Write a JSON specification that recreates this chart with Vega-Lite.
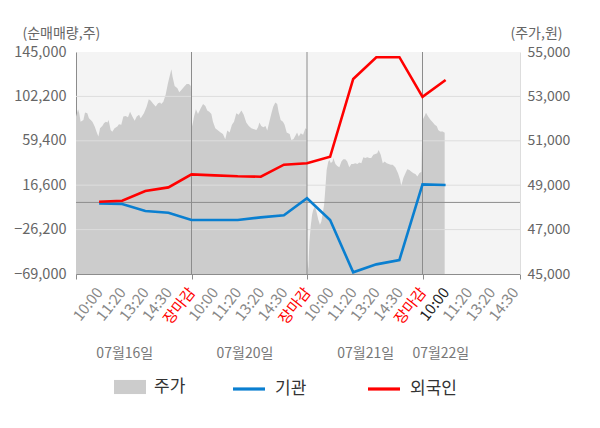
{
  "$schema": "https://vega.github.io/schema/vega-lite/v6.json",
  "autosize": "none",
  "width": 444,
  "height": 222,
  "padding": {"left": 76, "top": 52, "right": 80, "bottom": 154},
  "background": "#ffffff",
  "datasets": {
    "price": [
      {"t": 0, "p": 52090}, {"t": 0.09, "p": 52420}, {"t": 0.14, "p": 52240}, {"t": 0.2, "p": 51860}, {"t": 0.32, "p": 51940},
      {"t": 0.39, "p": 52270}, {"t": 0.49, "p": 52240}, {"t": 0.56, "p": 52020}, {"t": 0.64, "p": 51940}, {"t": 0.71, "p": 51860},
      {"t": 0.81, "p": 51640}, {"t": 0.9, "p": 51370}, {"t": 0.97, "p": 51190}, {"t": 1.04, "p": 51570}, {"t": 1.14, "p": 51670},
      {"t": 1.21, "p": 51790}, {"t": 1.29, "p": 51860}, {"t": 1.36, "p": 51820}, {"t": 1.41, "p": 51940}, {"t": 1.5, "p": 51490},
      {"t": 1.57, "p": 51410}, {"t": 1.67, "p": 51570}, {"t": 1.79, "p": 51640}, {"t": 1.86, "p": 51750}, {"t": 1.96, "p": 51720},
      {"t": 2.05, "p": 52090}, {"t": 2.15, "p": 52120}, {"t": 2.25, "p": 52060}, {"t": 2.34, "p": 52310}, {"t": 2.44, "p": 52090},
      {"t": 2.54, "p": 51900}, {"t": 2.63, "p": 52090}, {"t": 2.73, "p": 52170}, {"t": 2.8, "p": 52020}, {"t": 2.94, "p": 52240},
      {"t": 3.06, "p": 52540}, {"t": 3.15, "p": 52870}, {"t": 3.23, "p": 52810}, {"t": 3.35, "p": 52660}, {"t": 3.45, "p": 52540},
      {"t": 3.55, "p": 52690}, {"t": 3.64, "p": 52720}, {"t": 3.69, "p": 52660}, {"t": 3.78, "p": 52760}, {"t": 3.88, "p": 53070},
      {"t": 3.98, "p": 53590}, {"t": 4.07, "p": 53970}, {"t": 4.13, "p": 54220}, {"t": 4.18, "p": 53890}, {"t": 4.27, "p": 53470},
      {"t": 4.39, "p": 53370}, {"t": 4.47, "p": 53190}, {"t": 4.56, "p": 53290}, {"t": 4.68, "p": 53440}, {"t": 4.79, "p": 53560},
      {"t": 4.89, "p": 53560}, {"t": 4.97, "p": 53470},
      {"t": 5.0, "p": 52390}, {"t": 5.03, "p": 51640}, {"t": 5.11, "p": 52090}, {"t": 5.19, "p": 52420}, {"t": 5.28, "p": 52210},
      {"t": 5.4, "p": 52470}, {"t": 5.5, "p": 52660}, {"t": 5.6, "p": 52570}, {"t": 5.68, "p": 52360}, {"t": 5.77, "p": 52310},
      {"t": 5.86, "p": 52210}, {"t": 5.93, "p": 51860}, {"t": 6.03, "p": 51570}, {"t": 6.15, "p": 51460}, {"t": 6.26, "p": 51370},
      {"t": 6.36, "p": 51310}, {"t": 6.46, "p": 51070}, {"t": 6.55, "p": 51460}, {"t": 6.65, "p": 51370}, {"t": 6.75, "p": 51720},
      {"t": 6.84, "p": 51860}, {"t": 6.94, "p": 52240}, {"t": 7.04, "p": 52170}, {"t": 7.16, "p": 52360}, {"t": 7.26, "p": 52170},
      {"t": 7.37, "p": 51820}, {"t": 7.48, "p": 51670}, {"t": 7.59, "p": 51570}, {"t": 7.71, "p": 51520}, {"t": 7.81, "p": 51490},
      {"t": 7.88, "p": 51610}, {"t": 7.94, "p": 51820}, {"t": 8.02, "p": 51670}, {"t": 8.11, "p": 51610}, {"t": 8.2, "p": 51670},
      {"t": 8.28, "p": 51460}, {"t": 8.37, "p": 51860}, {"t": 8.46, "p": 52240}, {"t": 8.54, "p": 52540}, {"t": 8.63, "p": 52720},
      {"t": 8.71, "p": 52660}, {"t": 8.77, "p": 52310}, {"t": 8.86, "p": 51940}, {"t": 8.96, "p": 51860}, {"t": 9.03, "p": 51720},
      {"t": 9.12, "p": 51370}, {"t": 9.25, "p": 51310}, {"t": 9.32, "p": 51040}, {"t": 9.41, "p": 51070}, {"t": 9.49, "p": 51220},
      {"t": 9.57, "p": 51370}, {"t": 9.64, "p": 51190}, {"t": 9.73, "p": 51340}, {"t": 9.83, "p": 51270}, {"t": 9.93, "p": 51570},
      {"t": 9.99, "p": 51520},
      {"t": 10.01, "p": 45640}, {"t": 10.06, "p": 45190}, {"t": 10.1, "p": 46410}, {"t": 10.16, "p": 47140}, {"t": 10.22, "p": 47670},
      {"t": 10.27, "p": 47890}, {"t": 10.35, "p": 48040}, {"t": 10.42, "p": 47760}, {"t": 10.49, "p": 47440}, {"t": 10.56, "p": 47220},
      {"t": 10.62, "p": 47370}, {"t": 10.68, "p": 47740}, {"t": 10.74, "p": 48120}, {"t": 10.79, "p": 48790}, {"t": 10.85, "p": 49690},
      {"t": 10.92, "p": 50060}, {"t": 10.97, "p": 50140}, {"t": 11.03, "p": 50000}, {"t": 11.1, "p": 50060}, {"t": 11.14, "p": 50220},
      {"t": 11.23, "p": 49960}, {"t": 11.31, "p": 49870}, {"t": 11.4, "p": 49810}, {"t": 11.49, "p": 50070}, {"t": 11.57, "p": 50170},
      {"t": 11.66, "p": 50170}, {"t": 11.74, "p": 50070}, {"t": 11.83, "p": 49810}, {"t": 11.92, "p": 49960}, {"t": 12.0, "p": 49960},
      {"t": 12.09, "p": 49990}, {"t": 12.18, "p": 49960}, {"t": 12.26, "p": 50020}, {"t": 12.35, "p": 49990}, {"t": 12.44, "p": 50260},
      {"t": 12.52, "p": 50220}, {"t": 12.61, "p": 50260}, {"t": 12.7, "p": 50220}, {"t": 12.78, "p": 50220}, {"t": 12.87, "p": 50370},
      {"t": 12.96, "p": 50410}, {"t": 13.04, "p": 50440}, {"t": 13.1, "p": 50590}, {"t": 13.19, "p": 50370}, {"t": 13.28, "p": 49990},
      {"t": 13.36, "p": 50070}, {"t": 13.45, "p": 49990}, {"t": 13.54, "p": 49960}, {"t": 13.62, "p": 49920}, {"t": 13.71, "p": 49920},
      {"t": 13.82, "p": 49810}, {"t": 13.94, "p": 49540}, {"t": 14.03, "p": 49240}, {"t": 14.08, "p": 48970}, {"t": 14.17, "p": 49320},
      {"t": 14.26, "p": 49540}, {"t": 14.34, "p": 49720}, {"t": 14.43, "p": 49690}, {"t": 14.52, "p": 49610}, {"t": 14.61, "p": 49540},
      {"t": 14.69, "p": 49510}, {"t": 14.78, "p": 49390}, {"t": 14.86, "p": 49540}, {"t": 14.95, "p": 49610},
      {"t": 15.0, "p": 51940}, {"t": 15.09, "p": 52120}, {"t": 15.15, "p": 52260}, {"t": 15.25, "p": 52080}, {"t": 15.35, "p": 51940},
      {"t": 15.44, "p": 51830}, {"t": 15.53, "p": 51720}, {"t": 15.62, "p": 51650}, {"t": 15.68, "p": 51490}, {"t": 15.76, "p": 51420},
      {"t": 15.87, "p": 51420}, {"t": 15.96, "p": 51360}
    ],
    "flow": [
      {"t": 1, "series": "기관", "v": -900}, {"t": 2, "series": "기관", "v": -1500}, {"t": 3, "series": "기관", "v": -8300},
      {"t": 4, "series": "기관", "v": -9900}, {"t": 5, "series": "기관", "v": -17000}, {"t": 6, "series": "기관", "v": -17000},
      {"t": 7, "series": "기관", "v": -17000}, {"t": 8, "series": "기관", "v": -14400}, {"t": 9, "series": "기관", "v": -12400},
      {"t": 10, "series": "기관", "v": 4000}, {"t": 11, "series": "기관", "v": -17000}, {"t": 12, "series": "기관", "v": -67400},
      {"t": 13, "series": "기관", "v": -59700}, {"t": 14, "series": "기관", "v": -55500}, {"t": 15, "series": "기관", "v": 17400},
      {"t": 16, "series": "기관", "v": 16800},
      {"t": 1, "series": "외국인", "v": 700}, {"t": 2, "series": "외국인", "v": 1600}, {"t": 3, "series": "외국인", "v": 11000},
      {"t": 4, "series": "외국인", "v": 14500}, {"t": 5, "series": "외국인", "v": 27000}, {"t": 6, "series": "외국인", "v": 26100},
      {"t": 7, "series": "외국인", "v": 25200}, {"t": 8, "series": "외국인", "v": 24800}, {"t": 9, "series": "외국인", "v": 36400},
      {"t": 10, "series": "외국인", "v": 37700}, {"t": 11, "series": "외국인", "v": 44000}, {"t": 12, "series": "외국인", "v": 119000},
      {"t": 13, "series": "외국인", "v": 140000}, {"t": 14, "series": "외국인", "v": 140000}, {"t": 15, "series": "외국인", "v": 101700},
      {"t": 16, "series": "외국인", "v": 118000}
    ],
    "grid": [{"v": -26200}, {"v": 16600}, {"v": 59400}, {"v": 102200}],
    "days": [{"d": 5}, {"d": 10}, {"d": 15}]
  },
  "layer": [
    {
      "data": {"name": "price"},
      "mark": {"type": "area", "clip": true},
      "encoding": {
        "x": {
          "field": "t", "type": "quantitative",
          "scale": {"domain": [0, 19.22], "nice": false, "zero": false},
          "axis": {
            "orient": "bottom", "title": null, "values": [2.09, 7.29, 12.52, 15.77], "labelAngle": 0,
            "labelExpr": "datum.value < 5 ? '07월16일' : datum.value < 10 ? '07월20일' : datum.value < 15 ? '07월21일' : '07월22일'",
            "ticks": false, "domain": false, "grid": false, "labelPadding": 72, "labelColor": "#777777",
            "labelFontSize": 14, "labelOverlap": false, "labelFlush": false, "labelBound": false
          }
        },
        "y": {
          "field": "p", "type": "quantitative",
          "scale": {"domain": [45000, 55000], "nice": false, "zero": false},
          "axis": {
            "orient": "right", "values": [45000, 47000, 49000, 51000, 53000, 55000], "format": ",d",
            "grid": false, "ticks": false, "domainColor": "#dddddd", "labelPadding": 7,
            "labelColor": "#666666", "labelFontSize": 14,
            "title": "(주가,원)", "titleAngle": 0, "titleAlign": "right", "titleBaseline": "middle",
            "titleX": 42, "titleY": -19, "titleColor": "#666666", "titleFontSize": 14, "titleFontWeight": "normal"
          }
        },
        "fill": {
          "datum": "주가", "type": "nominal",
          "scale": {"domain": ["주가"], "range": ["#cccccc"]},
          "legend": {
            "title": null, "orient": "none", "direction": "horizontal", "legendX": 38, "legendY": 319,
            "labelFontSize": 17, "labelColor": "#333333", "labelOffset": 8,
            "symbolType": "M-1,-0.44H1V0.44H-1Z", "symbolSize": 1024, "symbolStrokeWidth": 0, "symbolOpacity": 1
          }
        }
      }
    },
    {
      "data": {"name": "grid"},
      "mark": {"type": "rule", "color": "#dddddd", "strokeWidth": 1},
      "encoding": {
        "y": {"field": "v", "type": "quantitative", "scale": {"domain": [-69000, 145000], "nice": false, "zero": false}, "axis": null}
      }
    },
    {
      "data": {"name": "days"},
      "mark": {"type": "rule", "color": "#8c8c8c", "strokeWidth": 1},
      "encoding": {
        "x": {
          "field": "d", "type": "quantitative",
          "scale": {"domain": [0, 19.22], "nice": false, "zero": false},
          "axis": {
            "orient": "bottom", "title": null, "values": [0, 5, 10, 15, 19.22], "labels": false, "grid": false,
            "ticks": true, "tickSize": 5, "tickColor": "#8c8c8c", "domain": true, "domainColor": "#8c8c8c"
          }
        }
      }
    },
    {
      "data": {"values": [{"z": 0}]},
      "mark": {"type": "rule", "color": "#8c8c8c", "strokeWidth": 1},
      "encoding": {
        "y": {"field": "z", "type": "quantitative", "scale": {"domain": [-69000, 145000], "nice": false, "zero": false}, "axis": null}
      }
    },
    {
      "data": {"name": "flow"},
      "mark": {"type": "line", "strokeWidth": 2.6, "clip": true},
      "encoding": {
        "x": {
          "field": "t", "type": "quantitative",
          "scale": {"domain": [0, 19.22], "nice": false, "zero": false},
          "axis": {
            "orient": "bottom", "title": null, "values": [1, 2, 3, 4, 5, 6, 7, 8, 9, 10, 11, 12, 13, 14, 15, 16, 17, 18, 19],
            "labelExpr": "['장마감', '10:00', '11:20', '13:20', '14:30'][datum.value % 5]",
            "labelAngle": -52, "labelFontSize": 15, "labelPadding": 15,
            "labelColor": {"condition": [{"test": "datum.value % 5 === 0", "value": "#ff0000"}, {"test": "datum.value === 16", "value": "#222222"}], "value": "#888888"},
            "ticks": false, "domain": false, "grid": false, "labelOverlap": false, "labelFlush": false, "labelBound": false
          }
        },
        "y": {
          "field": "v", "type": "quantitative",
          "scale": {"domain": [-69000, 145000], "nice": false, "zero": false},
          "axis": {
            "orient": "left", "values": [-69000, -26200, 16600, 59400, 102200, 145000], "format": ",d",
            "grid": false, "ticks": false, "domainColor": "#8c8c8c", "labelPadding": 10,
            "labelColor": "#666666", "labelFontSize": 14.5,
            "title": "(순매매량,주)", "titleAngle": 0, "titleAlign": "left", "titleBaseline": "middle",
            "titleX": -54, "titleY": -19, "titleColor": "#666666", "titleFontSize": 14, "titleFontWeight": "normal"
          }
        },
        "stroke": {
          "field": "series", "type": "nominal",
          "scale": {"domain": ["기관", "외국인"], "range": ["#0a7fd0", "#ff0000"]},
          "legend": {
            "title": null, "orient": "none", "direction": "horizontal", "legendX": 155, "legendY": 319,
            "columnPadding": 54, "labelFontSize": 17, "labelColor": "#333333", "labelOffset": 8,
            "symbolType": "stroke", "symbolSize": 1024, "symbolStrokeWidth": 3.2
          }
        }
      }
    }
  ],
  "resolve": {"scale": {"y": "independent"}, "axis": {"x": "independent", "y": "independent"}},
  "config": {
    "font": "Noto Sans CJK KR",
    "view": {"fill": "#f4f4f4", "stroke": null},
    "axis": {"labelFont": "Noto Sans CJK KR", "titleFont": "Noto Sans CJK KR"},
    "legend": {"labelFont": "Noto Sans CJK KR"}
  }
}
